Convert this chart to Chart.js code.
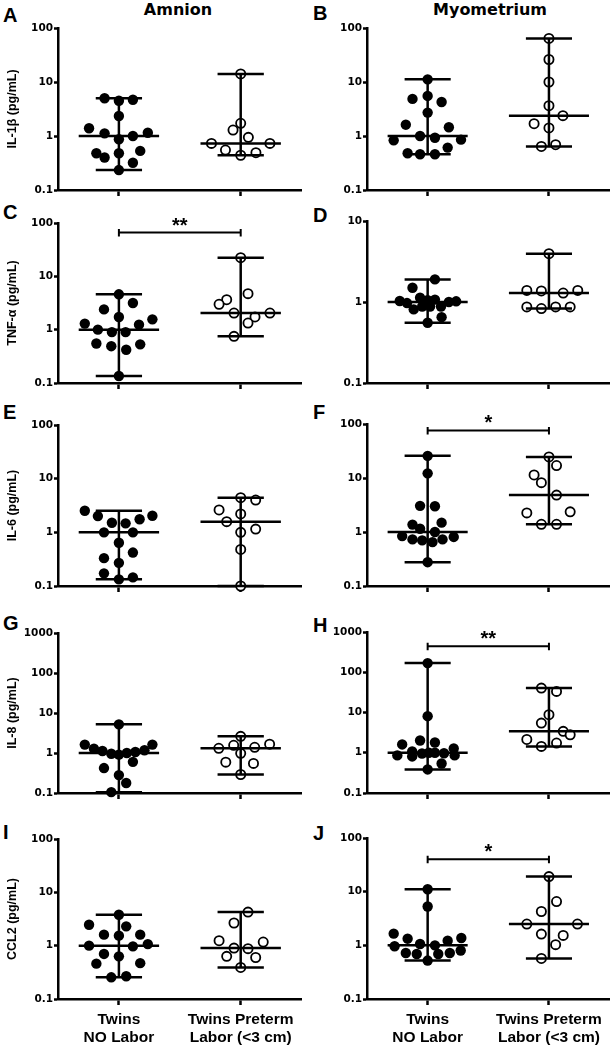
<!DOCTYPE html>
<html lang="en">
<head>
<meta charset="UTF-8">
<title>Twins cytokines - amnion and myometrium</title>
<script src="https://cdn.jsdelivr.net/npm/chart.js"></script>
<style>
  body { margin: 0; background: #fff; }
  #page { position: relative; width: 616px; height: 1049px; overflow: hidden; background: #fff; }
  .panel { position: absolute; }
  .letter { position: absolute; font: bold 20px "Liberation Sans", Arial, sans-serif; line-height: 22px; color: #000; }
  .coltitle { position: absolute; font: bold 16px "DejaVu Sans", sans-serif; line-height: 20px; color: #000; transform: translateX(-50%); white-space: nowrap; }
</style>
</head>
<body>
<div id="page">
  <div class="coltitle" style="left:178px; top:0px;">Amnion</div>
  <div class="coltitle" style="left:490px; top:0px;">Myometrium</div>
</div>

<script>
// ---- data (log scale) ----
const categoryLabels = [["Twins", "NO Labor"], ["Twins Preterm", "Labor (<3 cm)"]];
const yTicks100 = [0.1, 1, 10, 100];
const yTicks10 = [0.1, 1, 10];
const yTicks1000 = [0.1, 1, 10, 100, 1000];

// A: IL-1b amnion
const A_noLaborJitter = [-0.235, 0, 0.23, 0, -0.49, -0.235, 0.475, 0, 0.23, -0.37, -0.235, 0, 0.35, 0.23, 0];
const A_noLaborVals   = [5.0, 4.5, 4.7, 2.35, 1.39, 1.12, 1.15, 0.87, 1.0, 0.48, 0.40, 0.48, 0.53, 0.32, 0.234];
const A_pretermJitter = [0, 0, -0.126, 0.126, -0.48, 0.48, -0.25, 0, 0.25];
const A_pretermVals   = [14.1, 1.72, 1.29, 0.945, 0.73, 0.73, 0.55, 0.44, 0.49];

// B: IL-1b myometrium
const B_noLaborJitter = [0, -0.25, 0, 0.23, 0, -0.36, 0.35, -0.56, -0.125, 0.12, 0.55, 0.33, -0.33, -0.125, 0.12];
const B_noLaborVals   = [11.2, 4.86, 5.52, 4.27, 2.71, 1.62, 1.45, 0.83, 1.0, 0.93, 0.855, 0.61, 0.48, 0.46, 0.46];
const B_pretermJitter = [0, 0, 0, 0, 0.23, -0.245, 0, -0.125, 0.11];
const B_pretermVals   = [64, 26.1, 10, 3.65, 2.38, 1.69, 1.41, 0.64, 0.69];

// C: TNF-a amnion
const C_noLaborJitter = [0, 0.23, -0.245, 0, 0.55, -0.56, 0.33, -0.345, -0.115, 0.11, -0.37, -0.125, 0.12, 0.35, 0];
const C_noLaborVals   = [4.6, 3.16, 2.4, 1.73, 1.56, 1.30, 1.24, 1.0, 0.90, 0.90, 0.55, 0.49, 0.42, 0.53, 0.135];
const C_pretermJitter = [0, 0.12, -0.23, -0.355, -0.11, 0.48, 0.235, 0.12, -0.11];
const C_pretermVals   = [22.4, 4.73, 3.65, 2.99, 2.05, 2.05, 1.73, 1.33, 0.75];

// D: TNF-a myometrium
const D_noLaborJitter = [0.12, -0.25, -0.46, -0.34, -0.125, 0, 0.12, 0.35, 0.47, -0.23, -0.09, 0.04, 0.22, 0.23, 0];
const D_noLaborVals   = [1.9, 1.5, 1.03, 0.97, 1.13, 1.05, 1.07, 1.0, 1.02, 0.81, 0.88, 0.88, 0.88, 0.65, 0.555];
const D_pretermJitter = [0, -0.365, -0.125, 0.235, 0.475, -0.365, -0.125, 0.11, 0.35];
const D_pretermVals   = [3.95, 1.39, 1.37, 1.29, 1.39, 0.87, 0.83, 0.87, 0.87];

// E: IL-6 amnion
const E_noLaborJitter = [-0.56, -0.345, 0.55, -0.115, 0.11, 0.34, -0.245, 0.23, 0, 0.23, -0.245, 0, -0.245, 0, 0.23];
const E_noLaborVals   = [2.53, 2.01, 2.04, 1.51, 1.47, 1.75, 1.0, 1.0, 0.64, 0.42, 0.33, 0.27, 0.172, 0.133, 0.145];
const E_pretermJitter = [0, 0.246, -0.355, 0, -0.23, 0, 0.246, 0, 0];
const E_pretermVals   = [4.43, 4.0, 2.61, 2.2, 1.58, 1.0, 1.15, 0.48, 0.1];

// F: IL-6 myometrium
const F_noLaborJitter = [0, 0, -0.125, 0.12, -0.25, -0.125, 0.23, 0.12, -0.42, -0.25, -0.09, 0.08, 0.245, 0.43, 0];
const F_noLaborVals   = [25.7, 12.2, 3.05, 3.0, 1.37, 1.15, 1.49, 1.0, 0.84, 0.73, 0.70, 0.65, 0.73, 0.81, 0.276];
const F_pretermJitter = [0, 0.125, -0.245, -0.125, 0.125, -0.365, 0.35, -0.125, 0.125];
const F_pretermVals   = [24.5, 17, 11.4, 8.2, 4.82, 2.26, 2.36, 1.39, 1.39];

// G: IL-8 amnion
const G_noLaborJitter = [0, -0.56, 0.55, -0.41, -0.27, -0.125, 0, 0.13, 0.27, 0.42, -0.245, 0.23, 0, 0.12, -0.125];
const G_noLaborVals   = [5.2, 1.62, 1.62, 1.28, 1.12, 0.96, 0.91, 1.0, 1.06, 1.17, 0.42, 0.6, 0.28, 0.178, 0.105];
const G_pretermJitter = [0, -0.36, -0.115, 0, 0.23, 0.475, -0.245, 0.21, 0];
const G_pretermVals   = [2.61, 1.31, 1.56, 0.98, 1.39, 1.66, 0.59, 0.55, 0.29];

// H: IL-8 myometrium
const H_noLaborJitter = [0, 0, -0.42, -0.125, 0.12, -0.5, -0.255, -0.255, -0.093, 0.02, 0.12, 0.27, 0.43, 0.445, 0.23, 0];
const H_noLaborVals   = [169, 8.1, 1.61, 2.02, 1.80, 0.86, 1.08, 0.81, 0.96, 1.0, 1.0, 0.97, 1.28, 0.86, 0.54, 0.385];
const H_pretermJitter = [-0.125, 0.125, 0, -0.125, 0.235, 0.35, -0.365, 0.125, -0.125];
const H_pretermVals   = [40.4, 33.4, 8.8, 5.45, 3.4, 2.8, 2.14, 1.74, 1.44];

// I: CCL2 amnion
const I_noLaborJitter = [0, -0.49, 0.12, -0.245, 0, 0.35, -0.49, 0.23, 0.475, -0.245, 0, -0.37, 0.35, -0.125, 0.12];
const I_noLaborVals   = [3.8, 2.47, 2.3, 1.61, 1.54, 1.61, 1.0, 0.97, 1.07, 0.70, 0.63, 0.46, 0.47, 0.255, 0.267];
const I_pretermJitter = [0.12, -0.11, -0.355, 0.37, -0.11, 0.12, -0.23, 0.246, 0];
const I_pretermVals   = [4.26, 2.66, 1.24, 1.17, 0.90, 0.88, 0.63, 0.60, 0.39];

// J: CCL2 myometrium
const J_noLaborJitter = [0, 0, -0.56, -0.33, 0.33, 0.555, -0.545, -0.125, 0.12, -0.36, -0.18, 0.175, 0.365, 0.545, 0];
const J_noLaborVals   = [11.1, 5.3, 1.65, 1.33, 1.22, 1.37, 0.96, 1.06, 1.0, 0.72, 0.69, 0.69, 0.72, 0.80, 0.52];
const J_pretermJitter = [0, 0.125, -0.125, -0.365, 0.47, -0.125, 0.235, 0.11, -0.125];
const J_pretermVals   = [19.1, 6.55, 4.27, 2.49, 2.49, 1.62, 1.53, 1.03, 0.57];

// significance brackets: level (pg/mL) and stars
const sigC = { y: 66, text: "**" };
const sigF = { y: 76, text: "*" };
const sigH = { y: 442, text: "**" };
const sigJ = { y: 40, text: "*" };

// ---- layout ----
const PAD_TOP = 22;
const MEDIAN_HALF = 0.66;
const CAP_HALF = 0.38;

const panels = [
  { id: "A", col: 0, top: 28,  bottom: 190, letterY: 4,   yTicks: yTicks100,  title: "IL-1β (pg/mL)", nl: [A_noLaborJitter, A_noLaborVals], pt: [A_pretermJitter, A_pretermVals] },
  { id: "B", col: 1, top: 28,  bottom: 190, letterY: 2,   yTicks: yTicks100,  title: "", nl: [B_noLaborJitter, B_noLaborVals], pt: [B_pretermJitter, B_pretermVals] },
  { id: "C", col: 0, top: 223, bottom: 383, letterY: 201, yTicks: yTicks100,  title: "TNF-α (pg/mL)", nl: [C_noLaborJitter, C_noLaborVals], pt: [C_pretermJitter, C_pretermVals], sig: sigC },
  { id: "D", col: 1, top: 221, bottom: 383, letterY: 204, yTicks: yTicks10,   title: "", nl: [D_noLaborJitter, D_noLaborVals], pt: [D_pretermJitter, D_pretermVals] },
  { id: "E", col: 0, top: 425, bottom: 586, letterY: 401, yTicks: yTicks100,  title: "IL-6 (pg/mL)", nl: [E_noLaborJitter, E_noLaborVals], pt: [E_pretermJitter, E_pretermVals] },
  { id: "F", col: 1, top: 424, bottom: 586, letterY: 401, yTicks: yTicks100,  title: "", nl: [F_noLaborJitter, F_noLaborVals], pt: [F_pretermJitter, F_pretermVals], sig: sigF },
  { id: "G", col: 0, top: 633, bottom: 793, letterY: 612, yTicks: yTicks1000, title: "IL-8 (pg/mL)", nl: [G_noLaborJitter, G_noLaborVals], pt: [G_pretermJitter, G_pretermVals] },
  { id: "H", col: 1, top: 632, bottom: 793, letterY: 614, yTicks: yTicks1000, title: "", nl: [H_noLaborJitter, H_noLaborVals], pt: [H_pretermJitter, H_pretermVals], sig: sigH },
  { id: "I", col: 0, top: 839, bottom: 999, letterY: 821, yTicks: yTicks100,  title: "CCL2 (pg/mL)", nl: [I_noLaborJitter, I_noLaborVals], pt: [I_pretermJitter, I_pretermVals], bottomRow: true },
  { id: "J", col: 1, top: 838, bottom: 999, letterY: 822, yTicks: yTicks100,  title: "", nl: [J_noLaborJitter, J_noLaborVals], pt: [J_pretermJitter, J_pretermVals], sig: sigJ, bottomRow: true }
];

function median(a) {
  const s = [...a].sort((p, q) => p - q);
  const m = s.length >> 1;
  return s.length % 2 ? s[m] : (s[m - 1] + s[m]) / 2;
}

function pointSet(center, jitter, vals, filled) {
  return {
    data: vals.map((v, i) => ({ x: center + jitter[i], y: v })),
    showLine: false,
    pointRadius: filled ? 5.2 : 4.6,
    pointBackgroundColor: filled ? "#000" : "#fff",
    pointBorderColor: "#000",
    pointBorderWidth: filled ? 0 : 1.8,
    clip: false,
    order: 2
  };
}

// median line plus range bar with caps
function summarySets(center, vals) {
  const med = median(vals), lo = Math.min(...vals), hi = Math.max(...vals);
  const seg = pts => ({ data: pts, showLine: true, borderColor: "#000", borderWidth: 2.5, pointRadius: 0, clip: false, order: 1 });
  return [
    seg([{ x: center - MEDIAN_HALF, y: med }, { x: center + MEDIAN_HALF, y: med }]),
    seg([{ x: center, y: lo }, { x: center, y: hi }]),
    seg([{ x: center - CAP_HALF, y: lo }, { x: center + CAP_HALF, y: lo }]),
    seg([{ x: center - CAP_HALF, y: hi }, { x: center + CAP_HALF, y: hi }])
  ];
}

const bracketPlugin = {
  id: "bracket",
  afterDatasetsDraw(chart, args, opts) {
    if (!opts || !opts.text) return;
    const { ctx, scales: { x, y } } = chart;
    const x1 = x.getPixelForValue(1), x2 = x.getPixelForValue(3), yy = y.getPixelForValue(opts.y);
    ctx.save();
    ctx.strokeStyle = "#000";
    ctx.lineWidth = 2;
    ctx.beginPath();
    ctx.moveTo(x1, yy - 3.5); ctx.lineTo(x1, yy + 4);
    ctx.moveTo(x2, yy - 3.5); ctx.lineTo(x2, yy + 4);
    ctx.moveTo(x1, yy); ctx.lineTo(x2, yy);
    ctx.stroke();
    ctx.fillStyle = "#000";
    ctx.font = "bold 20px 'Liberation Sans', Arial, sans-serif";
    ctx.textAlign = "center";
    ctx.textBaseline = "alphabetic";
    ctx.fillText(opts.text, (x1 + x2) / 2, yy - 1);
    ctx.restore();
  }
};

Chart.defaults.color = "#000";
Chart.defaults.font.family = "'Liberation Sans', Arial, sans-serif";

const page = document.getElementById("page");

panels.forEach(p => {
  const xh = p.bottomRow ? 50 : 9;
  const h = PAD_TOP + (p.bottom - p.top) + xh;
  const left = p.col * 308;

  const letter = document.createElement("div");
  letter.className = "letter";
  letter.textContent = p.id;
  letter.style.left = (left + (p.col ? 5 : 3)) + "px";
  letter.style.top = p.letterY + "px";
  page.appendChild(letter);

  const wrap = document.createElement("div");
  wrap.className = "panel";
  wrap.style.left = left + "px";
  wrap.style.top = (p.top - PAD_TOP) + "px";
  const canvas = document.createElement("canvas");
  canvas.width = 308;
  canvas.height = h;
  wrap.appendChild(canvas);
  page.appendChild(wrap);

  const yTicks = p.yTicks;
  new Chart(canvas, {
    type: "scatter",
    data: {
      datasets: [
        pointSet(1, p.nl[0], p.nl[1], true),
        pointSet(3, p.pt[0], p.pt[1], false),
        ...summarySets(1, p.nl[1]),
        ...summarySets(3, p.pt[1])
      ]
    },
    options: {
      responsive: false,
      animation: false,
      events: [],
      layout: { padding: { top: PAD_TOP, right: p.col ? 3 : 6, left: 0, bottom: 0 } },
      plugins: {
        legend: { display: false },
        tooltip: { enabled: false },
        bracket: p.sig || {}
      },
      scales: {
        x: {
          type: "linear",
          min: 0,
          max: 4,
          afterBuildTicks: s => { s.ticks = [{ value: 1 }, { value: 3 }]; },
          afterFit: s => { s.height = xh; },
          grid: { drawOnChartArea: false, drawTicks: true, tickLength: 6, tickWidth: 2.5, tickColor: "#000", color: "#000" },
          border: { color: "#000", width: 2.5 },
          ticks: {
            display: !!p.bottomRow,
            autoSkip: false,
            maxRotation: 0,
            padding: 5,
            font: { size: 15.5, weight: "bold" },
            callback: v => v === 1 ? categoryLabels[0] : categoryLabels[1]
          }
        },
        y: {
          type: "logarithmic",
          min: 0.1,
          max: yTicks[yTicks.length - 1],
          afterBuildTicks: s => { s.ticks = yTicks.map(v => ({ value: v })); },
          afterFit: s => { s.width = p.col ? 59 : 58; },
          grid: { drawOnChartArea: false, drawTicks: true, tickLength: 4, tickWidth: 2.5, tickColor: "#000", color: "#000" },
          border: { color: "#000", width: 2.5 },
          title: {
            display: !!p.title,
            text: p.title,
            font: { size: 12.5, weight: "bold" },
            padding: { top: 5, bottom: 0 }
          },
          ticks: {
            padding: 1,
            font: { family: "'DejaVu Sans', sans-serif", size: 10.5, weight: "bold" },
            callback: v => String(v)
          }
        }
      }
    },
    plugins: [bracketPlugin]
  });
});
</script>
</body>
</html>
